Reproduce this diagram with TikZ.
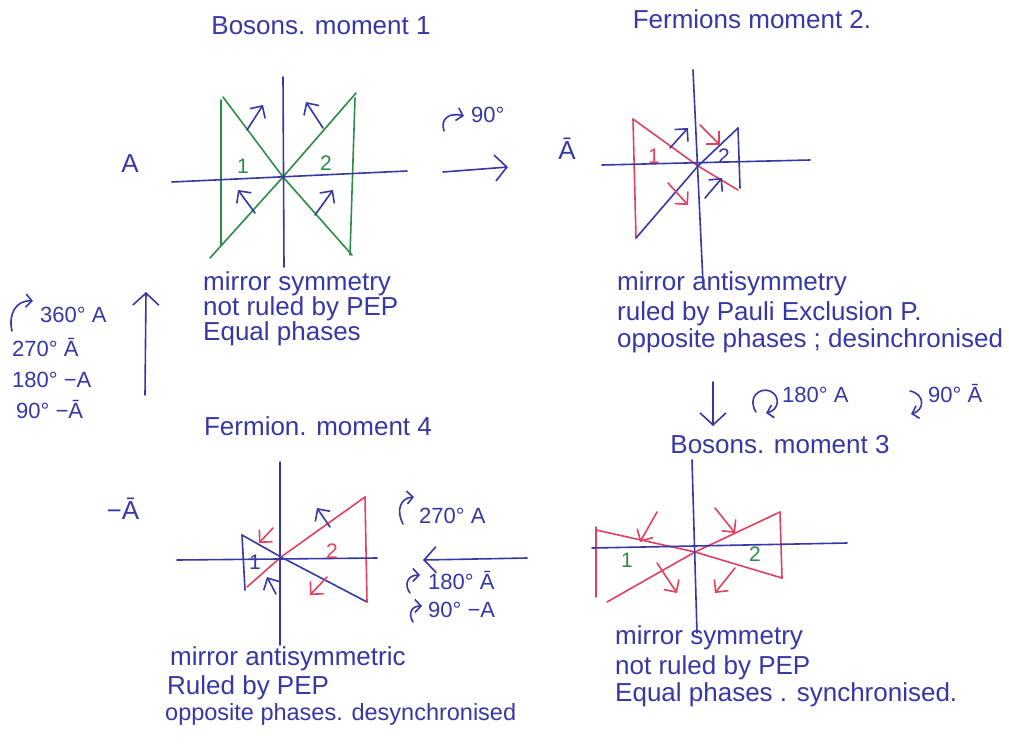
\documentclass[tikz,border=0pt]{standalone}
\usepackage{fontspec}
\setmainfont{Liberation Sans}
\usetikzlibrary{arrows.meta}
\definecolor{ink}{RGB}{55,55,165}
\definecolor{rink}{RGB}{225,65,95}
\definecolor{gink}{RGB}{45,140,70}
\tikzset{
  pen/.style={line width=1.6pt, line cap=round, line join=round},
  blueline/.style={pen, draw=ink},
  redline/.style={pen, draw=rink},
  greenline/.style={pen, draw=gink},
  harr/.style={-{Straight Barb[length=9pt,width=18pt]}},
  bigarr/.style={pen, draw=ink, -{Straight Barb[length=12pt,width=26pt]}},
  curl/.style={pen, draw=ink, -{Straight Barb[length=6pt,width=13pt]}},
  txt/.style={text=ink, font=\fontsize{26}{30}\selectfont, inner sep=0pt, anchor=west, text height=0.7em, text depth=0.2em},
  rtxt/.style={text=ink, font=\fontsize{22}{26}\selectfont, inner sep=0pt, anchor=west, text height=0.7em, text depth=0.2em},
  ttl/.style={text=ink, font=\fontsize{26}{30}\selectfont, inner sep=0pt, text height=0.7em, text depth=0.2em},
  lbl/.style={font=\fontsize{21}{24}\selectfont, inner sep=0pt},
}
\begin{document}
\begin{tikzpicture}[x=1pt,y=-1pt]
\fill[white] (0,0) rectangle (1009,753);

% ---------- Panel 1 : Bosons moment 1 ----------
\node[ttl] (t1) at (321,32) {Bosons. moment 1};
\coordinate (c1) at (283,177);
\draw[greenline] (221,100) -- (221,245);
\draw[greenline] (223,97) -- (c1) -- (352,255);
\draw[greenline] (210,258) -- (c1) -- (356,93);
\draw[greenline] (355,98) -- (350,255);
\draw[blueline] (283,77) -- (284,267);
\draw[blueline] (172,182) -- (407,171);
\draw[blueline,harr] (247,130) -- (263,105);
\draw[blueline,harr] (323,128) -- (306,102);
\draw[blueline,harr] (255,213) -- (238,190);
\draw[blueline,harr] (315,215) -- (333,190);
\node[lbl,text=gink] (n11) at (243,166) {1};
\node[lbl,text=gink] (n12) at (326,163) {2};
\node[ttl] (s1) at (130,170) {A};
\node[txt] (d1a) at (203,288) {mirror symmetry};
\node[txt] (d1b) at (203,313) {not ruled by PEP};
\node[txt] (d1c) at (203,338) {Equal phases};

% ---------- arrow 1 -> 2 ----------
\coordinate (a12s) at (443,172);
\coordinate (a12e) at (508,167);
\draw[bigarr] (a12s) -- (a12e);
\draw[curl] (444,131) .. controls (440,119) and (449,112) .. (464,116);
\node[rtxt] (r12) at (471,120) {90°};

% ---------- Panel 2 : Fermions moment 2 ----------
\node[ttl] (t2) at (752,26) {Fermions moment 2.};
\coordinate (c2) at (698,166);
\draw[redline] (633,119) -- (636,238);
\draw[redline] (633,119) -- (c2) -- (738,190);
\draw[blueline] (636,238) -- (c2) -- (738,128);
\draw[blueline] (738,128) -- (740,188);
\draw[blueline] (693,70) -- (703,283);
\draw[blueline] (602,165) -- (810,160);
\draw[blueline,harr] (670,148) -- (688,128);
\draw[redline,harr] (700,125) -- (720,145);
\draw[redline,harr] (668,183) -- (688,205);
\draw[blueline,harr] (705,198) -- (722,178);
\node[lbl,text=rink] (n21) at (654,156) {1};
\node[lbl,text=ink] (n22) at (724,156) {2};
\node[ttl] (s2) at (567,157) {Ā};
\node[txt] (d2a) at (617,288) {mirror antisymmetry};
\node[txt] (d2b) at (617,318) {ruled by Pauli Exclusion P.};
\node[txt] (d2c) at (617,345) {opposite phases ; desinchronised};

% ---------- arrow 2 -> 3 ----------
\coordinate (a23s) at (713,382);
\coordinate (a23e) at (713,426);
\draw[bigarr] (a23s) -- (a23e);
\draw[curl] (756,412) .. controls (747,398) and (759,387) .. (770,391) .. controls (781,396) and (779,410) .. (766,413);
\node[rtxt] (r23a) at (782,400) {180° A};
\draw[curl] (910,391) .. controls (925,394) and (925,410) .. (911,414);
\node[rtxt] (r23b) at (928,400) {90° Ā};

% ---------- Panel 3 : Bosons moment 3 ----------
\node[ttl] (t3) at (780,451) {Bosons. moment 3};
\coordinate (c3) at (695,552);
\draw[redline] (596,527) -- (596,597);
\draw[redline] (596,530) -- (c3) -- (782,578);
\draw[redline] (607,602) -- (c3) -- (780,512);
\draw[redline] (780,512) -- (782,578);
\draw[blueline] (692,460) -- (697,633);
\draw[blueline] (592,548) -- (847,543);
\draw[redline,harr] (657,512) -- (640,542);
\draw[redline,harr] (715,508) -- (735,533);
\draw[redline,harr] (657,563) -- (677,593);
\draw[redline,harr] (735,568) -- (715,593);
\node[lbl,text=gink] (n31) at (627,560) {1};
\node[lbl,text=gink] (n32) at (755,554) {2};
\node[txt] (d3a) at (615,642) {mirror symmetry};
\node[txt] (d3b) at (615,672) {not ruled by PEP};
\node[txt] (d3c) at (615,699) {Equal phases . synchronised.};

% ---------- arrow 3 -> 4 ----------
\coordinate (a34s) at (527,558);
\coordinate (a34e) at (423,560);
\draw[bigarr] (a34s) -- (a34e);
\draw[curl] (403,524) .. controls (396,511) and (400,498) .. (414,497);
\node[rtxt] (r34a) at (419,521) {270° A};
\draw[curl] (410,593) .. controls (404,585) and (407,575) .. (420,575);
\node[rtxt] (r34b) at (428,587) {180° Ā};
\draw[curl] (413,622) .. controls (408,614) and (411,606) .. (422,606);
\node[rtxt] (r34c) at (428,615) {90° −A};

% ---------- Panel 4 : Fermion moment 4 ----------
\node[ttl] (t4) at (318,433) {Fermion. moment 4};
\coordinate (c4) at (281,557);
\draw[blueline] (242,535) -- (245,590);
\draw[blueline] (242,535) -- (c4) -- (367,602);
\draw[redline] (247,587) -- (c4) -- (365,497);
\draw[redline] (365,497) -- (367,602);
\draw[blueline] (280,462) -- (280,645);
\draw[blueline] (177,560) -- (377,558);
\draw[redline,harr] (273,528) -- (259,543);
\draw[blueline,harr] (330,527) -- (317,508);
\draw[blueline,harr] (276,594) -- (267,577);
\draw[redline,harr] (327,577) -- (310,595);
\node[lbl,text=ink] (n41) at (255,562) {1};
\node[lbl,text=rink] (n42) at (332,551) {2};
\node[ttl] (s4) at (123,517) {−Ā};
\node[txt] (d4a) at (170,663) {mirror antisymmetric};
\node[txt] (d4b) at (167,692) {Ruled by PEP};
\node[txt,font=\fontsize{23.5}{28}\selectfont] (d4c) at (165,718) {opposite phases. desynchronised};

% ---------- arrow 4 -> 1 and left column ----------
\coordinate (a41s) at (145,395);
\coordinate (a41e) at (146,292);
\draw[bigarr] (a41s) -- (a41e);
\draw[curl] (12,331) .. controls (8,314) and (16,300) .. (33,301);
\node[rtxt] (l1) at (40,320) {360° A};
\node[rtxt] (l2) at (12,354) {270° Ā};
\node[rtxt] (l3) at (12,385) {180° −A};
\node[rtxt] (l4) at (16,416) {90° −Ā};
\end{tikzpicture}
\end{document}
